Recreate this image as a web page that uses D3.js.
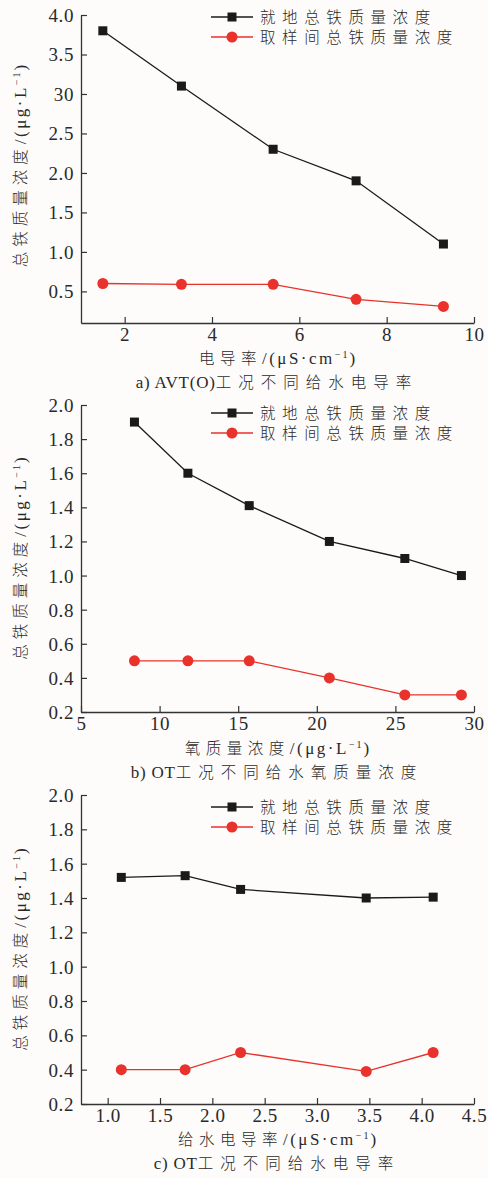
<!DOCTYPE html>
<html><head><meta charset="utf-8">
<script src="https://cdn.jsdelivr.net/npm/d3@7"></script>
<style>
html,body{margin:0;padding:0;background:#fdfcfa;}
svg{display:block;}
</style></head>
<body>
<script>
// ---------- data ----------
const seriesNames = ["就地总铁质量浓度", "取样间总铁质量浓度"];

const aX = [1.5, 3.3, 5.4, 7.3, 9.3];
const aLocal = [3.8, 3.1, 2.3, 1.9, 1.1];
const aSample = [0.6, 0.59, 0.59, 0.4, 0.31];
const aYTicks = [0.5, 1.0, 1.5, 2.0, 2.5, 3.0, 3.5, 4.0];
const aYTickLabels = ["0.5", "1.0", "1.5", "2.0", "2.5", "30", "3.5", "4.0"];
const aXTicks = [2, 4, 6, 8, 10];

const bX = [8.4, 11.8, 15.7, 20.8, 25.6, 29.2];
const bLocal = [1.9, 1.6, 1.41, 1.2, 1.1, 1.0];
const bSample = [0.5, 0.5, 0.5, 0.4, 0.3, 0.3];
const bYTicks = [0.2, 0.4, 0.6, 0.8, 1.0, 1.2, 1.4, 1.6, 1.8, 2.0];
const bXTicks = [5, 10, 15, 20, 25, 30];

const cX = [1.13, 1.74, 2.27, 3.47, 4.11];
const cLocal = [1.52, 1.53, 1.45, 1.40, 1.405];
const cSample = [0.4, 0.4, 0.5, 0.39, 0.5];
const cYTicks = [0.2, 0.4, 0.6, 0.8, 1.0, 1.2, 1.4, 1.6, 1.8, 2.0];
const cXTicks = [1.0, 1.5, 2.0, 2.5, 3.0, 3.5, 4.0, 4.5];

const W = 488, H = 1178;
const SERIF = '"Liberation Serif", "Times New Roman", serif';
const CJK = '"Noto Sans CJK SC", sans-serif';
const TXT = "#2a2a2a";
const svg = d3.select("body").append("svg").attr("width", W).attr("height", H);
svg.append("rect").attr("width", W).attr("height", H).attr("fill", "#fdfcfa");

const BLACK = "#1a1a1a", RED = "#e8322b";

function latin(sel, t, ls) {
  return sel.append("tspan").text(t).style("font-family", SERIF).style("font-size", "17px").style("letter-spacing", (ls || 0) + "px");
}
function cjk(sel, t, ls) {
  return sel.append("tspan").text(t).style("font-family", CJK).style("font-size", "15.5px").style("letter-spacing", ls + "px").style("font-weight", 300);
}
function sup(sel, ls) {
  return sel.append("tspan").text("−1").style("font-family", SERIF).style("font-size", "10px")
    .style("letter-spacing", (ls || 0) + "px").attr("baseline-shift", "65%");
}

function panel(cfg) {
  const x = d3.scaleLinear().domain(cfg.xDomain).range([81, 474]);
  const y = d3.scaleLinear().domain(cfg.yDomain).range([cfg.bottom, cfg.top]);
  const g = svg.append("g");

  const yAxis = d3.axisLeft(y).tickValues(cfg.yTicks).tickSizeInner(-6).tickSizeOuter(0).tickPadding(7)
    .tickFormat((d, i) => cfg.yTickLabels ? cfg.yTickLabels[i] : d3.format(".1f")(d));
  const ya = g.append("g").attr("transform", "translate(81,0)").call(yAxis);
  const xAxis = d3.axisBottom(x).tickValues(cfg.xTicks).tickSizeInner(-6).tickSizeOuter(0).tickPadding(5)
    .tickFormat(cfg.xFormat);
  const xa = g.append("g").attr("transform", `translate(0,${cfg.bottom})`).call(xAxis);
  [ya, xa].forEach(a => {
    a.attr("font-family", null).attr("font-size", null);
    a.select(".domain").attr("stroke", "#333").attr("stroke-width", 1.3);
    a.selectAll(".tick line").attr("stroke", "#333").attr("stroke-width", 1.2);
    a.selectAll(".tick text").style("font-family", SERIF).style("font-size", "19px")
      .style("letter-spacing", "0.6px").attr("fill", TXT);
  });
  ya.selectAll(".tick text").attr("dy", "0.34em");

  const line = d3.line().x(d => x(d[0])).y(d => y(d[1]));
  const dLocal = cfg.xs.map((v, i) => [v, cfg.local[i]]);
  const dSample = cfg.xs.map((v, i) => [v, cfg.sample[i]]);

  g.append("path").datum(dLocal).attr("d", line).attr("fill", "none").attr("stroke", BLACK).attr("stroke-width", 1.3);
  g.append("path").datum(dSample).attr("d", line).attr("fill", "none").attr("stroke", RED).attr("stroke-width", 1.3);
  g.selectAll(".sq").data(dLocal).enter().append("rect")
    .attr("x", d => x(d[0]) - 4.5).attr("y", d => y(d[1]) - 4.5)
    .attr("width", 9).attr("height", 9).attr("fill", BLACK);
  g.selectAll(".ci").data(dSample).enter().append("circle")
    .attr("cx", d => x(d[0])).attr("cy", d => y(d[1])).attr("r", 5.5).attr("fill", RED);

  // legend
  [[BLACK, "sq"], [RED, "ci"]].forEach((s, i) => {
    const ly = cfg.legendY + i * 20;
    g.append("line").attr("x1", 211).attr("x2", 253).attr("y1", ly).attr("y2", ly)
      .attr("stroke", s[0]).attr("stroke-width", 1.3);
    if (s[1] === "sq") g.append("rect").attr("x", 227.5).attr("y", ly - 4.5).attr("width", 9).attr("height", 9).attr("fill", s[0]);
    else g.append("circle").attr("cx", 232).attr("cy", ly).attr("r", 5.5).attr("fill", s[0]);
    const t = g.append("text").attr("x", 260).attr("y", ly).attr("dy", "0.36em").attr("fill", TXT);
    cjk(t, seriesNames[i], 6.6);
  });

  // y label
  const cy = (cfg.top + cfg.bottom) / 2 + cfg.yLabelShift;
  const yl = g.append("text").attr("transform", `translate(20,${cy}) rotate(-90)`)
    .attr("text-anchor", "middle").attr("dy", "0.36em").attr("fill", TXT);
  cjk(yl, "总铁质量浓度", 5);
  latin(yl, "/(μg·L", 2.5);
  sup(yl, 2);
  latin(yl, ")", 0);

  // x label
  const xl = g.append("text").attr("x", 277).attr("y", cfg.xLabelY).attr("dy", "0.36em")
    .attr("text-anchor", "middle").attr("fill", TXT);
  cjk(xl, cfg.xLabelCJK, 5.5);
  latin(xl, cfg.xLabelUnit, 2.5);
  sup(xl, 2);
  latin(xl, ")", 0);

  // caption
  const cp = g.append("text").attr("x", 277).attr("y", cfg.captionY).attr("dy", "0.36em")
    .attr("text-anchor", "middle").attr("fill", TXT);
  latin(cp, cfg.capLatin, 0.8);
  cjk(cp, cfg.capCJK, 7);
}

panel({
  xDomain: [1, 10], yDomain: [0.1, 4.0], top: 15, bottom: 323,
  xs: aX, local: aLocal, sample: aSample,
  yTicks: aYTicks, yTickLabels: aYTickLabels, xTicks: aXTicks, xFormat: d3.format("d"),
  legendY: 17, yLabelShift: -3, xLabelY: 358, captionY: 382,
  xLabelCJK: "电导率", xLabelUnit: "/(μS·cm",
  capLatin: "a) AVT(O)", capCJK: "工况不同给水电导率"
});
panel({
  xDomain: [5, 30], yDomain: [0.2, 2.0], top: 405, bottom: 712,
  xs: bX, local: bLocal, sample: bSample,
  yTicks: bYTicks, xTicks: bXTicks, xFormat: d3.format("d"),
  legendY: 413, yLabelShift: 0, xLabelY: 748, captionY: 772,
  xLabelCJK: "氧质量浓度", xLabelUnit: "/(μg·L",
  capLatin: "b) OT", capCJK: "工况不同给水氧质量浓度"
});
panel({
  xDomain: [0.745, 4.5], yDomain: [0.2, 2.0], top: 795, bottom: 1104,
  xs: cX, local: cLocal, sample: cSample,
  yTicks: cYTicks, xTicks: cXTicks, xFormat: d3.format(".1f"),
  legendY: 807, yLabelShift: 0, xLabelY: 1139, captionY: 1163,
  xLabelCJK: "给水电导率", xLabelUnit: "/(μS·cm",
  capLatin: "c) OT", capCJK: "工况不同给水电导率"
});
</script>
</body></html>
